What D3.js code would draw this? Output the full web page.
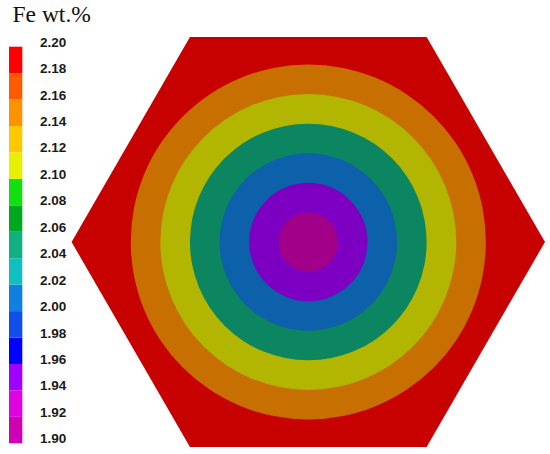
<!DOCTYPE html>
<html>
<head>
<meta charset="utf-8">
<script src="https://cdn.jsdelivr.net/npm/d3@7"></script>
<style>
  html, body { margin: 0; padding: 0; background: #fff; }
</style>
</head>
<body>
<svg width="550" height="454"></svg>
<script>
  // legend band boundaries (Fe wt.%)
  var levels = [1.90, 1.92, 1.94, 1.96, 1.98, 2.00, 2.02, 2.04, 2.06, 2.08, 2.10, 2.12, 2.14, 2.16, 2.18, 2.20]
  var bandColors = ['#d000b4', '#e000e0', '#a000ff', '#0000ff', '#1050e8', '#1080e0', '#10c0c0',
    '#10b080', '#00a820', '#10e010', '#e6f000', '#ffc800', '#ff9200', '#ff5a00', '#ff0000']

  // concentric zones: outer radius (arbitrary units) and Fe value
  var ringRadius = [1, 2, 3, 4, 5, 6]
  var ringValue = [1.91, 1.95, 2.01, 2.05, 2.11, 2.15]
  var hexRadius = 8
  var hexValue = 2.19

  var svg = d3.select('svg')

  var color = d3.scaleThreshold()
    .domain(levels.slice(1, -1))
    .range(bandColors)

  // map is drawn shaded darker than the legend
  function shade(v) {
    var c = d3.rgb(color(v))
    return d3.rgb(c.r * 0.78, c.g * 0.76, c.b * 0.76).formatHex()
  }

  var cx = 308.3, cy = 242
  var r = d3.scaleLinear().domain([0, hexRadius]).range([0, 236.7])

  var map = svg.append('g').attr('transform', 'translate(' + cx + ',' + cy + ')')

  var hexPts = d3.range(6).map(function (i) {
    var a = i * Math.PI / 3
    return [r(hexRadius) * Math.cos(a), r(hexRadius) * Math.sin(a)]
  })
  map.append('path')
    .attr('d', d3.line()(hexPts) + 'Z')
    .attr('fill', shade(hexValue))

  var rings = ringRadius.map(function (d, i) {
    return { r: d, v: ringValue[i] }
  }).reverse()

  map.selectAll('circle')
    .data(rings)
    .enter().append('circle')
    .attr('r', function (d) { return r(d.r) })
    .attr('fill', function (d) { return shade(d.v) })

  // colour legend
  var ly = d3.scaleLinear().domain([1.90, 2.20]).range([443.3, 46.7])
  var legend = svg.append('g')

  legend.selectAll('rect')
    .data(bandColors)
    .enter().append('rect')
    .attr('x', 9)
    .attr('width', 13.3)
    .attr('y', function (d, i) { return ly(levels[i + 1]) })
    .attr('height', function (d, i) { return ly(levels[i]) - ly(levels[i + 1]) })
    .attr('fill', function (d) { return d })

  legend.selectAll('text')
    .data(levels)
    .enter().append('text')
    .attr('x', 40)
    .attr('y', function (d) { return ly(d) })
    .attr('font-family', 'Liberation Sans, Arial, sans-serif')
    .attr('font-size', 13.5)
    .attr('font-weight', 'bold')
    .attr('fill', '#1a1a1a')
    .text(function (d) { return d3.format('.2f')(d) })

  svg.append('text')
    .attr('x', 12.5)
    .attr('y', 21.7)
    .attr('font-family', 'Liberation Serif, Times New Roman, serif')
    .attr('font-size', 23.5)
    .attr('fill', '#111')
    .text('Fe wt.%')
</script>
</body>
</html>
